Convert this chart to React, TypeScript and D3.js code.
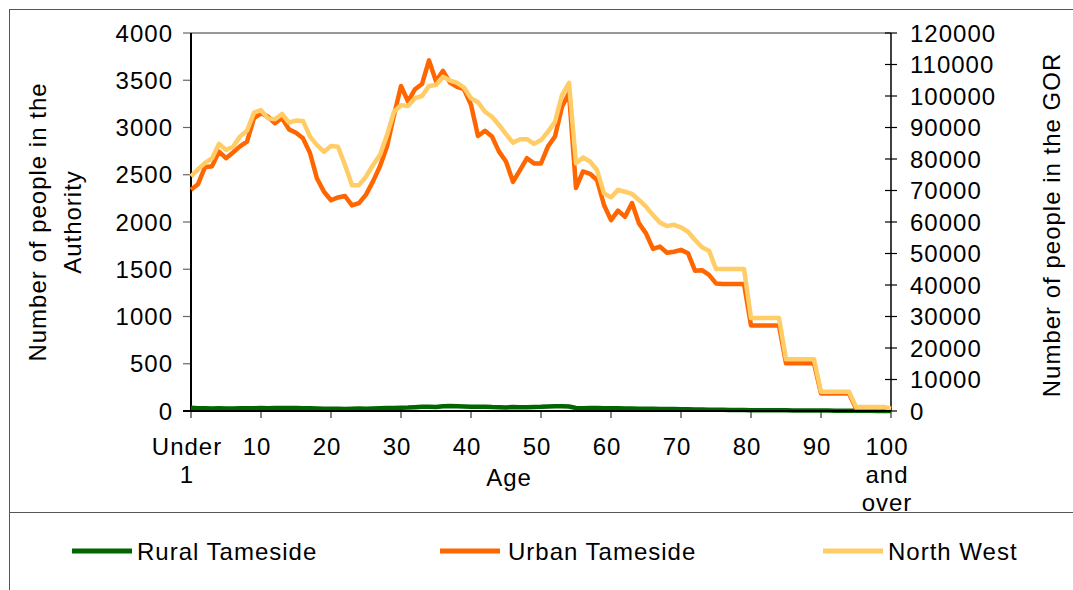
import React from "react";
import * as d3 from "d3";

const ageLabels: string[] = ["Under 1", ...d3.range(1, 100).map(String), "100 and over"];

const ruralTameside: number[] = [
  35, 30, 28, 27, 28, 26, 27, 29, 28, 30,
  32, 30, 31, 33, 31, 32, 29, 28, 26, 24,
  23, 25, 22, 24, 26, 25, 27, 29, 31, 33,
  34, 36, 40, 45, 44, 42, 50, 52, 49, 47,
  45, 44, 46, 42, 40, 38, 43, 41, 40, 42,
  44, 48, 50, 49, 47, 32, 30, 33, 31, 30,
  28, 29, 27, 26, 25, 24, 23, 22, 21, 20,
  19, 18, 16, 15, 14, 13, 12, 11, 10, 10,
  9, 9, 8, 8, 7, 7, 6, 6, 5, 5,
  4, 4, 3, 3, 3, 2, 2, 2, 1, 1,
  1,
];

const urbanTameside: number[] = [
  2340, 2400, 2580, 2590, 2745, 2675, 2735, 2800, 2850, 3100,
  3150, 3115, 3045, 3100, 2980, 2945, 2885, 2730, 2460, 2320,
  2230, 2260, 2275, 2175, 2200, 2290, 2430, 2590, 2800, 3130,
  3440, 3275, 3405, 3460, 3710, 3490, 3600, 3475, 3430, 3405,
  3240, 2910, 2965, 2905, 2745, 2640, 2425, 2550, 2675, 2620,
  2620, 2800, 2905, 3220, 3365, 2360, 2535, 2510, 2445, 2180,
  2020, 2120, 2055, 2200, 1985, 1880, 1715, 1740, 1675, 1685,
  1705, 1670, 1485, 1490, 1440, 1350, 1345, 1345, 1345, 1345,
  905, 905, 905, 905, 905, 505, 505, 505, 505, 505,
  185, 185, 185, 185, 185, 25, 25, 25, 25, 25,
  20,
];

const northWest: number[] = [
  74500, 76700, 78800, 80200, 84800, 82900, 83900, 87100, 89000, 94700,
  95500, 92900, 92600, 94300, 91600, 92200, 92100, 87100, 84400, 82300,
  84100, 83900, 78100, 71700, 71700, 74400, 78100, 81300, 87600, 95000,
  97100, 96800, 99300, 100000, 103200, 103500, 106100, 104900, 104200, 102700,
  99300, 98000, 95000, 93400, 90800, 87900, 85200, 86300, 86300, 84800,
  86000, 88700, 91800, 100300, 104200, 78600, 80500, 79200, 76500, 69100,
  67800, 70200, 69600, 68900, 67000, 64900, 62200, 59800, 58700, 59100,
  58300, 56900, 54300, 52000, 50900, 45100, 45100, 45100, 45100, 45100,
  29500, 29500, 29500, 29500, 29500, 16400, 16400, 16400, 16400, 16400,
  6100, 6100, 6100, 6100, 6100, 1300, 1300, 1300, 1300, 1300,
  700,
];

const leftTicks: number[] = d3.range(0, 4001, 500);
const rightTicks: number[] = d3.range(0, 120001, 10000);
const xTickIdx: number[] = d3.range(0, 101, 10);

const seriesNames = ["Rural Tameside", "Urban Tameside", "North West"];
const seriesColors = ["#006600", "#FF6600", "#FFCC66"];

const FONT = "'Liberation Sans', Arial, sans-serif";

export default function App() {
  const left = 191, right = 891, top = 33, bottom = 411;
  const x = d3.scaleLinear().domain([0, ageLabels.length - 1]).range([left, right]);
  const yL = d3.scaleLinear().domain([0, 4000]).range([bottom, top]);
  const yR = d3.scaleLinear().domain([0, 120000]).range([bottom, top]);

  const lineL = d3.line<number>().x((_, i) => x(i)).y((v) => yL(v));
  const lineR = d3.line<number>().x((_, i) => x(i)).y((v) => yR(v));

  const textStyle: React.CSSProperties = { fontFamily: FONT, fontSize: 24, letterSpacing: 1, fill: "#000" };

  const legendItems = [
    { lx: 72, tx: 137 },
    { lx: 440, tx: 508 },
    { lx: 823, tx: 888 },
  ];

  return (
    <svg width={1073} height={590} style={{ position: "absolute", left: 0, top: 0 }}>
      <rect x={0} y={0} width={1073} height={590} fill="#fff" />
      {/* outer border */}
      <rect x={9.5} y={9.5} width={1080} height={600} fill="none" stroke="#555" strokeWidth={1} />
      <line x1={9.5} x2={1073} y1={512.5} y2={512.5} stroke="#555" strokeWidth={1} />

      {/* plot border top */}
      <line x1={left} x2={right} y1={top} y2={top} stroke="#333" strokeWidth={1.2} />

      {/* left ticks + labels */}
      {leftTicks.map((t) => (
        <g key={"l" + t}>
          <line x1={left - 8} x2={left} y1={yL(t)} y2={yL(t)} stroke="#666" strokeWidth={1.2} />
          <text x={173} y={yL(t) + 8.5} textAnchor="end" style={textStyle}>{t}</text>
        </g>
      ))}
      {/* right ticks + labels */}
      {rightTicks.map((t) => (
        <g key={"r" + t}>
          <line x1={right - 6} x2={right + 6} y1={yR(t)} y2={yR(t)} stroke="#000" strokeWidth={1.2} />
          <text x={910} y={yR(t) + 8.5} textAnchor="start" style={textStyle}>{t}</text>
        </g>
      ))}
      {/* x ticks + labels */}
      {xTickIdx.map((i) => {
        const parts = ageLabels[i].split(" ");
        return (
          <g key={"x" + i}>
            <line x1={x(i)} x2={x(i)} y1={bottom} y2={bottom + 7} stroke="#333" strokeWidth={1.2} />
            <text textAnchor="middle" style={textStyle}>
              {parts.map((p, k) => (
                <tspan key={k} x={x(i) - 4} y={455 + k * 28}>{p}</tspan>
              ))}
            </text>
          </g>
        );
      })}

      {/* axes */}
      <line x1={left} x2={left} y1={top} y2={bottom} stroke="#000" strokeWidth={2} />
      <line x1={right} x2={right} y1={top} y2={bottom} stroke="#000" strokeWidth={1.5} />

      {/* series */}
      <path d={lineL(ruralTameside) || ""} fill="none" stroke={seriesColors[0]} strokeWidth={4.5} strokeLinejoin="round" />
      <path d={lineL(urbanTameside) || ""} fill="none" stroke={seriesColors[1]} strokeWidth={4.5} strokeLinejoin="round" />
      <path d={lineR(northWest) || ""} fill="none" stroke={seriesColors[2]} strokeWidth={4.5} strokeLinejoin="round" />

      <line x1={left - 8} x2={right} y1={bottom} y2={bottom} stroke="#000" strokeWidth={2} />

      {/* axis titles */}
      <text textAnchor="middle" style={textStyle} transform={`translate(46,222) rotate(-90)`}>Number of people in the</text>
      <text textAnchor="middle" style={textStyle} transform={`translate(81,222) rotate(-90)`}>Authority</text>
      <text textAnchor="middle" style={textStyle} transform={`translate(1060,225) rotate(-90)`}>Number of people in the GOR</text>
      <text x={509} y={486} textAnchor="middle" style={textStyle}>Age</text>

      {/* legend */}
      {legendItems.map((it, k) => (
        <g key={"lg" + k}>
          <line x1={it.lx} x2={it.lx + 60} y1={551} y2={551} stroke={seriesColors[k]} strokeWidth={5} />
          <text x={it.tx} y={560} style={textStyle}>{seriesNames[k]}</text>
        </g>
      ))}
    </svg>
  );
}
